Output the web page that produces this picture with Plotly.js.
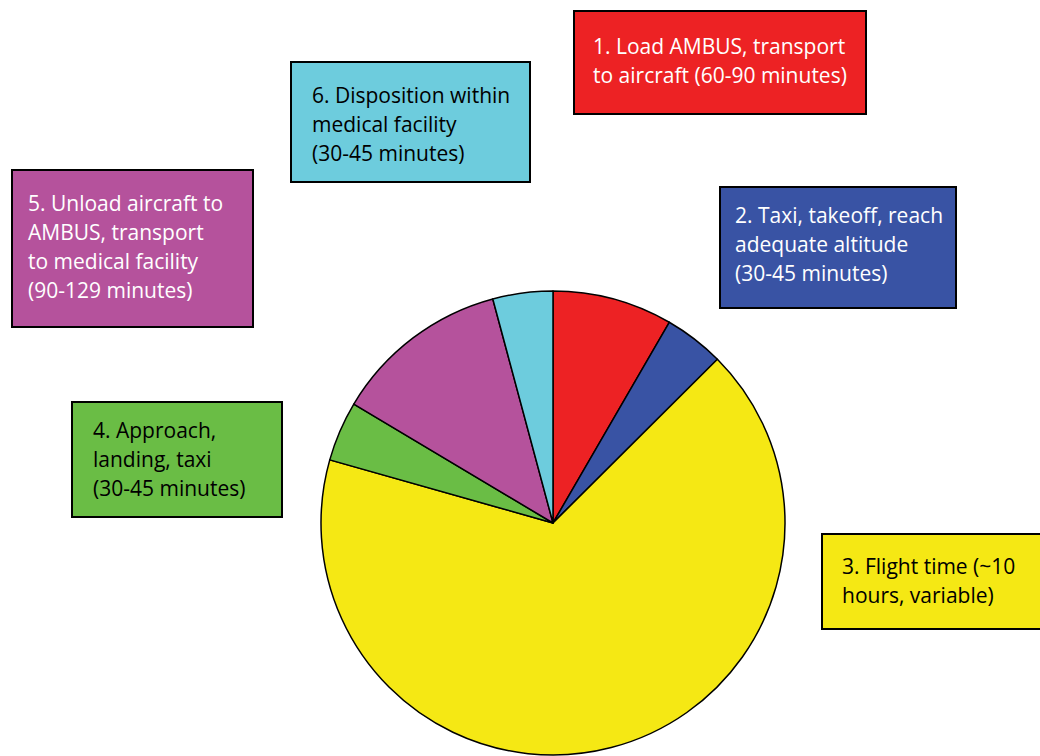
<!DOCTYPE html>
<html>
<head>
<meta charset="utf-8">
<script src="https://cdn.plot.ly/plotly-3.0.1.min.js"></script>
<style>html,body{margin:0;padding:0;background:#fff;}#chart{width:1040px;height:756px;}</style>
</head>
<body>
<div id="chart"></div>
<script>
// Data
const steps = ["1. Load AMBUS, transport to aircraft", "2. Taxi, takeoff, reach adequate altitude", "3. Flight time", "4. Approach, landing, taxi", "5. Unload aircraft to AMBUS, transport to medical facility", "6. Disposition within medical facility"];
const minutes = [75, 37.5, 600, 37.5, 110, 37.5];
const colors = ["#ED2224", "#3953A4", "#F5E814", "#6ABD45", "#B5529C", "#6DCCDD"];
const labelLines = [
  ["1. Load AMBUS, transport", "to aircraft (60-90 minutes)"],
  ["2. Taxi, takeoff, reach", "adequate altitude", "(30-45 minutes)"],
  ["3. Flight time (~10", "hours, variable)"],
  ["4. Approach,", "landing, taxi", "(30-45 minutes)"],
  ["5. Unload aircraft to", "AMBUS, transport", "to medical facility", "(90-129 minutes)"],
  ["6. Disposition within", "medical facility", "(30-45 minutes)"]
];
const textColors = ["#ffffff", "#ffffff", "#000000", "#000000", "#ffffff", "#000000"];

// Layout geometry (pixels)
const W = 1040, H = 756;
const boxes = [
  {x0: 574, x1: 866, y0: 11, y1: 114, tx: 591, ty: 46},
  {x0: 720, x1: 956, y0: 187, y1: 308, tx: 733, ty: 215},
  {x0: 822, x1: 1042, y0: 534, y1: 629, tx: 840, ty: 566},
  {x0: 72, x1: 282, y0: 402, y1: 517, tx: 91, ty: 430},
  {x0: 12, x1: 253, y0: 170, y1: 327, tx: 26, ty: 203},
  {x0: 291, x1: 530, y0: 62, y1: 182, tx: 310, ty: 95}
];
const lineGap = 29;
const px = x => x / W;
const py = y => 1 - y / H;

const shapes = [];
const annotations = [];
boxes.forEach((b, i) => {
  shapes.push({type: 'rect', xref: 'paper', yref: 'paper',
    x0: px(b.x0), x1: px(b.x1), y0: py(b.y1), y1: py(b.y0),
    fillcolor: colors[i], line: {color: '#000', width: 2}, layer: 'above'});
  labelLines[i].forEach((t, j) => {
    annotations.push({xref: 'paper', yref: 'paper', x: px(b.tx), y: py(b.ty + j * lineGap),
      xanchor: 'left', yanchor: 'middle', showarrow: false, text: t, align: 'left',
      font: {family: 'Open Sans, sans-serif', size: 21, color: textColors[i]}});
  });
});

const cx = 553, cy = 523, r = 232;
const data = [{
  type: 'pie', values: minutes, labels: steps, sort: false, direction: 'clockwise', rotation: 0,
  marker: {colors: colors, line: {color: '#000', width: 1.5}},
  textinfo: 'none', hoverinfo: 'label+value', showlegend: false,
  domain: {x: [px(cx - r), px(cx + r)], y: [(H - cy - r) / H, (H - cy + r) / H]}
}];

const layout = {width: W, height: H, margin: {l: 0, r: 0, t: 0, b: 0},
  paper_bgcolor: '#fff', plot_bgcolor: '#fff', showlegend: false,
  shapes: shapes, annotations: annotations};

Plotly.newPlot('chart', data, layout, {displayModeBar: false, staticPlot: true});
</script>
</body>
</html>
